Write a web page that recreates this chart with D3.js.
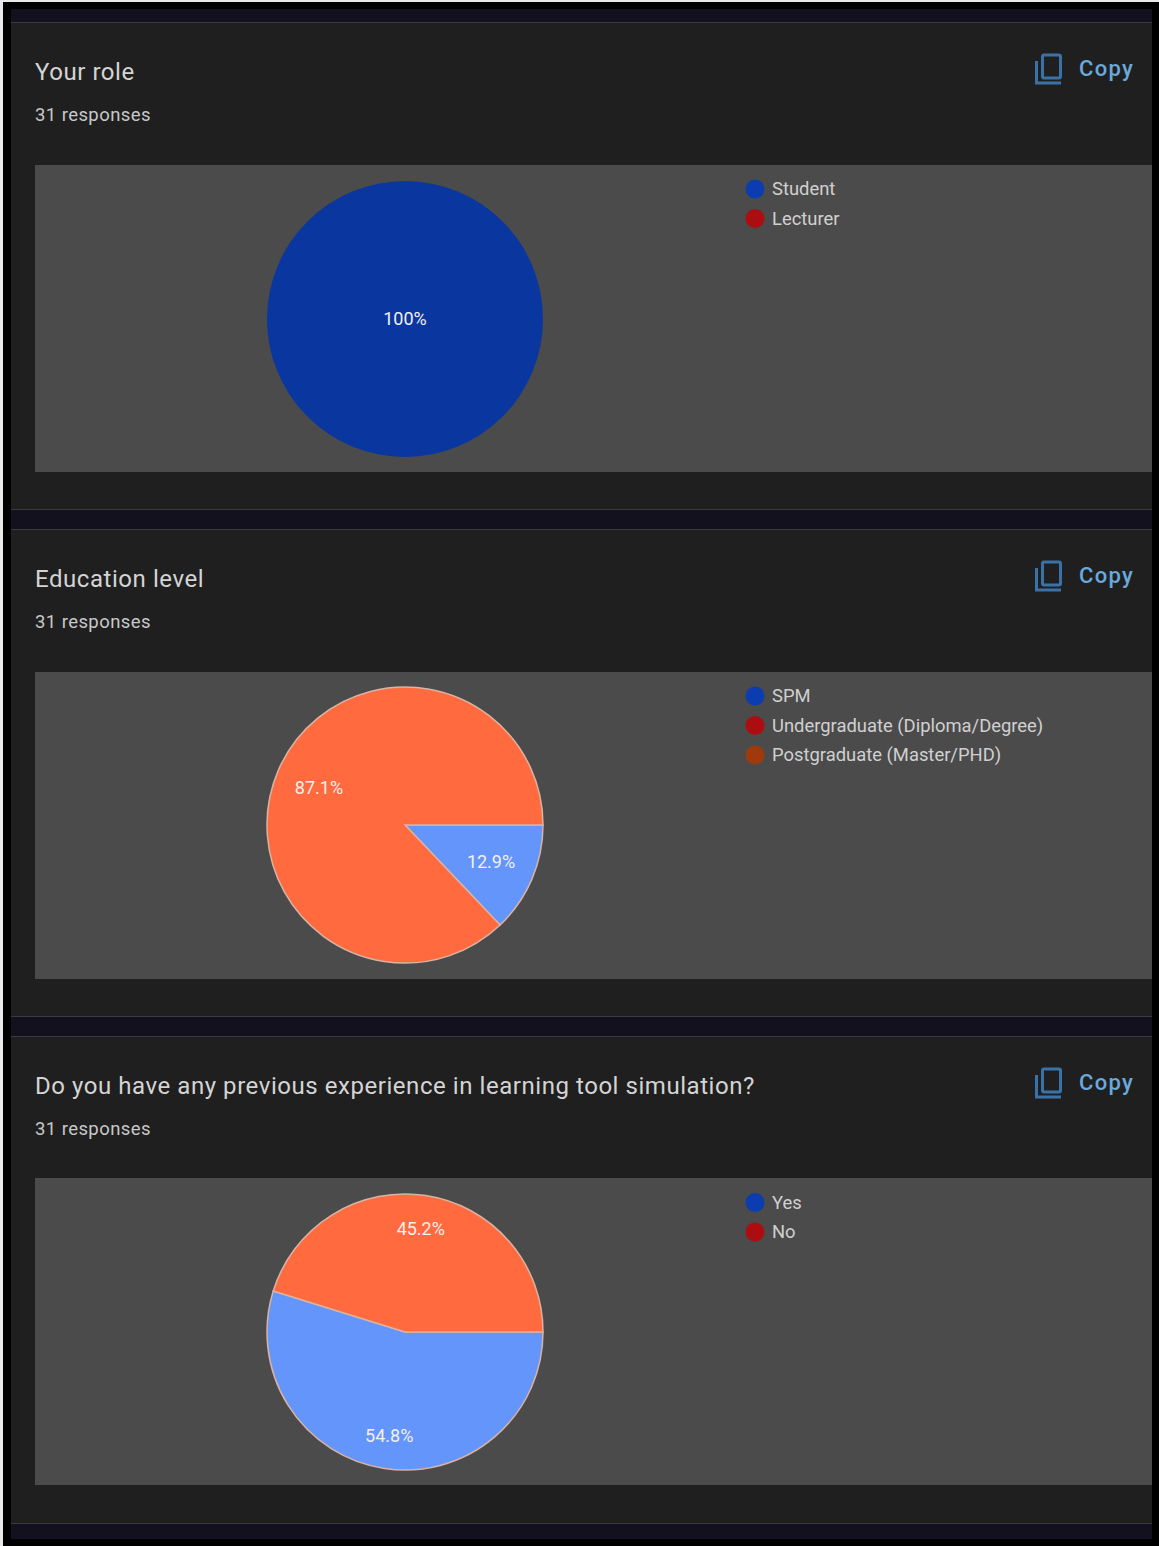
<!DOCTYPE html>
<html>
<head>
<meta charset="utf-8">
<script src="https://cdn.jsdelivr.net/npm/d3@7"></script>
<style>
html,body{margin:0;padding:0;background:#000;overflow:hidden}
svg{display:block}
text{font-family:Roboto,"Noto Sans",sans-serif}
</style>
</head>
<body>
<script>
// Survey questions and their answers
const titles = ["Your role", "Education level", "Do you have any previous experience in learning tool simulation?"];
const responseCount = 31;
const roleOptions = ["Student", "Lecturer"];
const roleShares = [100, 0];
const educationOptions = ["SPM", "Undergraduate (Diploma/Degree)", "Postgraduate (Master/PHD)"];
const educationShares = [12.9, 0, 87.1];
const experienceOptions = ["Yes", "No"];
const experienceShares = [54.8, 45.2];

const W = 1159, H = 1546;
const svg = d3.select("body").append("svg").attr("width", W).attr("height", H);

// Outer frame: thin pale edge, black border, dark navy page
svg.append("rect").attr("width", W).attr("height", H).attr("fill", "#000");
svg.append("rect").attr("width", 3).attr("height", H).attr("fill", "#e9e9e9");
svg.append("rect").attr("width", W).attr("height", 2).attr("fill", "#e9e9e9");
svg.append("rect").attr("x", 11).attr("y", 9).attr("width", 1141).attr("height", 1530).attr("fill", "#14111f");

const legendColor = d3.scaleOrdinal().domain([0, 1, 2]).range(["#0c3db0", "#ac0d10", "#a03a0c"]);
const sliceColor = { single: "#0a36a0", blue: "#6495fb", orange: "#ff6a3e" };

const cards = [
  { top: 22, panelShift: 0, pieShift: 0, options: roleOptions, shares: roleShares, colors: [sliceColor.single, "#ac0d10"], labelRadius: 0, edge: "none" },
  { top: 529, panelShift: 0, pieShift: -1, options: educationOptions, shares: educationShares, colors: [sliceColor.blue, "#ac0d10", sliceColor.orange], labelRadius: 93.6, edge: "#d9b3a3" },
  { top: 1036, panelShift: -1, pieShift: -1, options: experienceOptions, shares: experienceShares, colors: [sliceColor.blue, sliceColor.orange], labelRadius: 105, edge: "#d9b3a3" }
];

const pie = d3.pie().sort(null).startAngle(Math.PI / 2).endAngle(Math.PI * 2.5);
const R = 138;
const arc = d3.arc().innerRadius(0).outerRadius(R);

cards.forEach((c, i) => {
  const g = svg.append("g").attr("transform", `translate(0,${c.top})`);

  // Card body with hairline top and bottom rules
  g.append("rect").attr("x", 11).attr("width", 1141).attr("height", 488).attr("fill", "#1f1f1f");
  g.append("rect").attr("x", 11).attr("width", 1141).attr("height", 1).attr("fill", "#3b3942");
  g.append("rect").attr("x", 11).attr("y", 487).attr("width", 1141).attr("height", 1).attr("fill", "#3b3942");

  g.append("text").attr("x", 35).attr("y", 58).attr("fill", "#d4d4d4")
    .attr("font-size", 24).attr("letter-spacing", 0.55).text(titles[i]);
  g.append("text").attr("x", 35).attr("y", 98.5).attr("fill", "#c8c8c8")
    .attr("font-size", 18.5).attr("letter-spacing", 0.42).text(`${responseCount} responses`);

  // Copy button
  const copy = g.append("g").attr("transform", "translate(1035,31)")
    .attr("fill", "none").attr("stroke", "#3a72a8").attr("stroke-width", 3);
  copy.append("rect").attr("x", 7.5).attr("y", 2).attr("width", 18).attr("height", 23).attr("rx", 1.5);
  copy.append("path").attr("d", d3.line()([[1.5, 8], [1.5, 30], [26, 30]]));
  g.append("text").attr("x", 1079).attr("y", 54).attr("fill", "#6aa9dc")
    .attr("font-size", 22).attr("font-weight", 500).attr("letter-spacing", 1.3).text("Copy");

  // Chart panel
  g.append("rect").attr("x", 35).attr("y", 143 + c.panelShift).attr("width", 1117).attr("height", 307).attr("fill", "#4b4b4b");

  // Pie, clockwise from three o'clock
  const chart = g.append("g").attr("transform", `translate(405,${297 + c.pieShift})`);
  const slices = pie(c.shares);
  chart.selectAll("path").data(slices.filter(d => d.value > 0)).join("path")
    .attr("d", arc)
    .attr("fill", d => c.colors[d.index])
    .attr("stroke", c.edge).attr("stroke-width", 1.5);

  const label = d3.arc().innerRadius(c.labelRadius).outerRadius(c.labelRadius);
  chart.selectAll("text").data(slices.filter(d => d.value > 0)).join("text")
    .attr("transform", d => `translate(${c.labelRadius ? label.centroid(d) : [0, 0]})`)
    .attr("text-anchor", "middle").attr("dy", "0.35em")
    .attr("fill", "#f4f0ee").attr("font-size", 18)
    .text(d => `${d.value}%`);

  // Legend
  const legend = g.append("g").attr("transform", `translate(755,${167 + c.panelShift * 0.5})`);
  const rows = legend.selectAll("g").data(c.options).join("g")
    .attr("transform", (d, k) => `translate(0,${k * 29.5})`);
  rows.append("circle").attr("r", 9.5).attr("fill", (d, k) => legendColor(k));
  rows.append("text").attr("x", 17).attr("dy", "0.35em")
    .attr("fill", "#d0d0d0").attr("font-size", 18.4).text(d => d);
});
</script>
</body>
</html>
